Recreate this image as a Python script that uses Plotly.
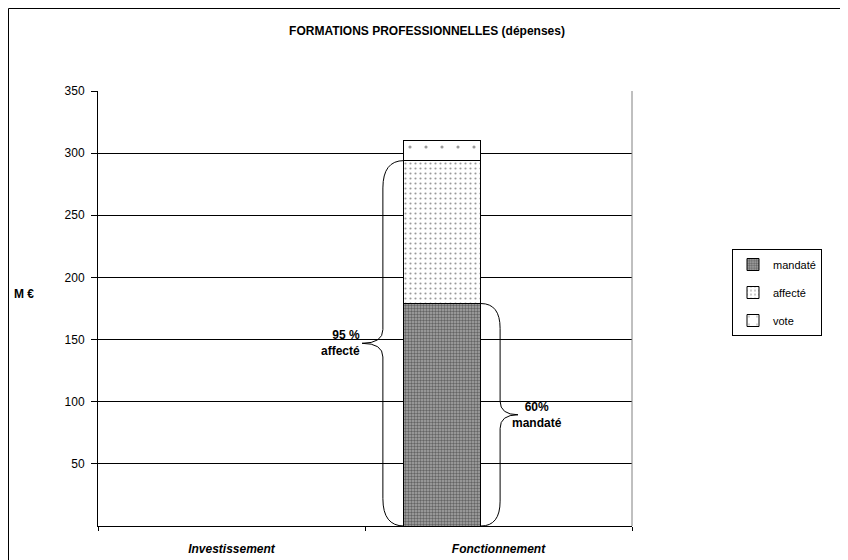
import plotly.graph_objects as go

categories = ["Investissement", "Fonctionnement"]
mandate = [0, 179]
affecte = [0, 115]
vote = [0, 16]
series_names = ["mandaté", "affecté", "vote"]
y_ticks = [50, 100, 150, 200, 250, 300, 350]

FONT = "Liberation Sans, Arial, sans-serif"
OFF = 8  # page body margin

fig = go.Figure()
patterns = [
    dict(shape=".", fgcolor="#202020", bgcolor="#a8a8a8", size=3, solidity=0.5),
    dict(shape=".", fgcolor="#333333", bgcolor="#ffffff", size=5, solidity=0.15),
    dict(shape=".", fgcolor="#333333", bgcolor="#ffffff", size=16, solidity=0.03),
]
for name, vals, pat in zip(series_names, [mandate, affecte, vote], patterns):
    fig.add_trace(go.Bar(
        x=categories, y=vals, name=name, legendgroup=name,
        width=0.288, offset=-0.354,
        marker=dict(color="#ffffff", pattern=pat, line=dict(color="#000000", width=1)),
    ))

idx = 1
total_aff = mandate[idx] + affecte[idx]
tot_mand = mandate[idx]
bar_left = idx - 0.354
bar_right = bar_left + 0.288


def brace(x_edge, xv, xtip, ytop, ybot, r, r2):
    ymid = (ytop + ybot) / 2
    return (f"M {x_edge},{ytop} Q {xv},{ytop} {xv},{ytop - r} "
            f"L {xv},{ymid + r2} Q {xv},{ymid} {xtip},{ymid} "
            f"Q {xv},{ymid} {xv},{ymid - r2} L {xv},{ybot + r} "
            f"Q {xv},{ybot} {x_edge},{ybot}")


fig.add_shape(type="path", xref="x", yref="y",
              path=brace(bar_left, 0.567, 0.489, total_aff, 0, 22, 11),
              line=dict(color="#000000", width=1))
fig.add_shape(type="path", xref="x", yref="y",
              path=brace(bar_right, 1.006, 1.073, tot_mand, 0, 20, 11),
              line=dict(color="#000000", width=1))

fig.add_annotation(x=0.488, y=total_aff / 2, xref="x", yref="y",
                   text="<b>95 %<br>affecté</b>", showarrow=False,
                   xanchor="right", yanchor="middle", align="right",
                   font=dict(family=FONT, size=12, color="#000000"))
fig.add_annotation(x=1.145, y=tot_mand / 2, xref="x", yref="y",
                   text="<b>60%<br>mandaté</b>", showarrow=False,
                   xanchor="center", yanchor="middle", align="center",
                   font=dict(family=FONT, size=12, color="#000000"))

fig.add_shape(type="line", xref="paper", yref="paper", x0=1, x1=1, y0=0, y1=1,
              line=dict(color="#808080", width=1))
# outer chart border (left and top edges visible)
bx0 = (8.5 - 98) / 534
by1 = (526 - 8.5) / 435
fig.add_shape(type="line", xref="paper", yref="paper", x0=bx0, x1=bx0,
              y0=(526 - 570) / 435, y1=by1, line=dict(color="#000000", width=1), layer="below")
fig.add_shape(type="line", xref="paper", yref="paper", x0=bx0, x1=(848 - 98) / 534,
              y0=by1, y1=by1, line=dict(color="#000000", width=1), layer="below")

fig.add_annotation(x=(12 - 98) / 534, y=(526 - 294) / 435, xref="paper", yref="paper",
                   text="<b>M €</b>", showarrow=False, xanchor="left", yanchor="middle",
                   font=dict(family=FONT, size=12, color="#000000"))

fig.update_layout(
    width=848, height=560,
    margin=dict(l=98 - OFF, r=848 + OFF - 632, t=91 - OFF, b=560 + OFF - 526),
    paper_bgcolor="#ffffff", plot_bgcolor="#ffffff",
    barmode="stack",
    title=dict(text="<b>FORMATIONS PROFESSIONNELLES (dépenses)</b>",
               x=(427 - OFF) / 848, xanchor="center", y=1 - (31 - OFF) / 560, yanchor="middle",
               font=dict(family=FONT, size=12, color="#000000")),
    font=dict(family=FONT, size=12, color="#000000"),
    legend=dict(x=(732 - 98) / 534, y=(526 - 249) / 435, xanchor="left", yanchor="top",
                traceorder="grouped", tracegroupgap=9,
                bordercolor="#000000", borderwidth=1, bgcolor="#ffffff",
                font=dict(family=FONT, size=11, color="#000000"),
                itemwidth=30),
    showlegend=True,
)
fig.update_xaxes(
    type="category", range=[-0.5, 1.5],
    tickmode="array", tickvals=categories,
    ticktext=[f"<b><i>{c}</i></b>" for c in categories],
    tickson="boundaries", ticks="outside", ticklen=4, tickcolor="#000000",
    showline=True, linecolor="#000000", linewidth=1, showgrid=False,
    tickfont=dict(family=FONT, size=12, color="#000000"), ticklabelstandoff=12,
)
fig.update_yaxes(
    range=[0, 350], tickmode="array", tickvals=y_ticks,
    ticks="outside", ticklen=6, tickcolor="#000000",
    showline=True, linecolor="#000000", linewidth=1,
    showgrid=True, gridcolor="#000000", gridwidth=1, zeroline=False,
    tickfont=dict(family=FONT, size=12, color="#000000"), ticklabelstandoff=4,
)

fig.write_html("out.html")
